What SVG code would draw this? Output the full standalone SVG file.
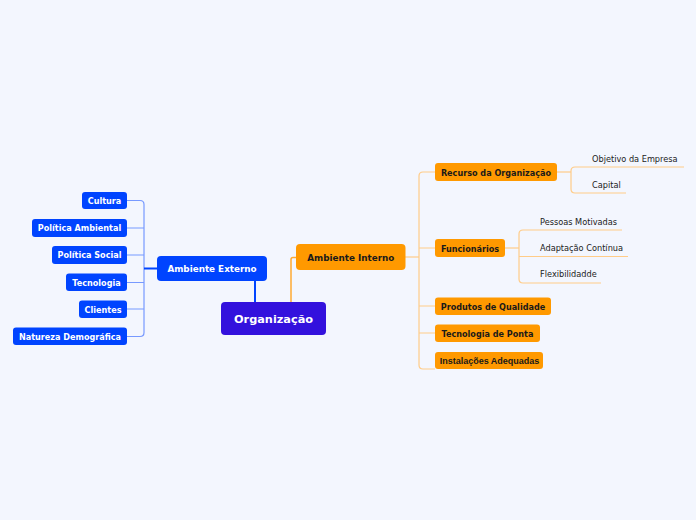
<svg xmlns="http://www.w3.org/2000/svg" width="696" height="520" viewBox="0 0 696 520">
<style>
text{font-family:"DejaVu Sans",Verdana,sans-serif}
.b{fill:#0044ff}
.bt{fill:#ffffff;font-weight:bold;font-size:8.1px;text-anchor:middle}
.o{fill:#ff9900}
.ot{fill:#1a1a1a;font-weight:bold;font-size:8.1px;text-anchor:middle}
.big{font-size:8.8px}
.lt{fill:#222;font-size:8.2px}
.lb{fill:none;stroke:#7799ff;stroke-width:1.2}
.lbs{fill:none;stroke:#0044ff;stroke-width:2}
.lo{fill:none;stroke:#ffcc88;stroke-width:1.2}
.los{fill:none;stroke:#ffaa33;stroke-width:1.5}
</style>
<rect width="696" height="520" fill="#f3f6fe"/>
<g id="connectors">
<path class="lb" d="M127 200.5 H140 Q144 200.5 144 204.5 V332.5 Q144 336.5 140 336.5 H127"/>
<path class="lb" d="M127 228 H144 M127 255 H144 M127 282.5 H144 M127 309 H144"/>
<path class="lbs" d="M144 268.5 H157"/>
<path class="lbs" d="M255 281 V302"/>
<path class="los" d="M291 302 V259.5 Q291 257.5 293 257.5 H296"/>
<path class="lo" d="M405 257 H419"/>
<path class="lo" d="M435 172 H423 Q419 172 419 176 V365 Q419 369 423 369 H435"/>
<path class="lo" d="M419 248 H435 M419 306 H435 M419 333 H435"/>
<path class="lo" d="M557 172 H571"/>
<path class="lo" d="M684 167 H575 Q571 167 571 171 V189 Q571 193 575 193 H626"/>
<path class="lo" d="M505 248 H519"/>
<path class="lo" d="M622 230 H523 Q519 230 519 234 V279 Q519 283 523 283 H601"/>
<path class="lo" d="M519 256.5 H628"/>
</g>
<g id="organizacao">
<rect x="221" y="302" width="105" height="33" rx="4" fill="#3311dd"/>
<text x="273.5" y="322.5" fill="#fff" font-weight="bold" font-size="11.3" text-anchor="middle">Organização</text>
</g>
<g id="ambiente-externo">
<rect class="b" x="157" y="256" width="110" height="25" rx="4"/>
<text class="bt big" x="212" y="271.5">Ambiente Externo</text>
</g>
<g id="cultura"><rect class="b" x="82" y="192" width="45" height="17" rx="3"/><text class="bt" x="104.5" y="203.5">Cultura</text></g>
<g id="politica-ambiental"><rect class="b" x="32" y="219" width="95" height="18" rx="3"/><text class="bt" x="79.5" y="231">Política Ambiental</text></g>
<g id="politica-social"><rect class="b" x="52" y="246" width="75" height="18" rx="3"/><text class="bt" x="89.5" y="258">Política Social</text></g>
<g id="tecnologia"><rect class="b" x="66" y="273.5" width="61" height="17.5" rx="3"/><text class="bt" x="96.5" y="285.5">Tecnologia</text></g>
<g id="clientes"><rect class="b" x="79" y="300.5" width="48" height="17.5" rx="3"/><text class="bt" x="103" y="312.5">Clientes</text></g>
<g id="natureza"><rect class="b" x="13" y="327.5" width="114" height="17.5" rx="3"/><text class="bt" x="70" y="339.5">Natureza Demográfica</text></g>
<g id="ambiente-interno">
<rect class="o" x="296" y="244" width="109.5" height="26" rx="4"/>
<text class="ot big" x="350.75" y="260.5">Ambiente Interno</text>
</g>
<g id="recurso"><rect class="o" x="435" y="163" width="122" height="18" rx="3"/><text class="ot" x="496" y="175.5">Recurso da Organização</text></g>
<g id="funcionarios"><rect class="o" x="435" y="239" width="70" height="18" rx="3"/><text class="ot" x="470" y="251.5">Funcionários</text></g>
<g id="produtos"><rect class="o" x="435" y="297.5" width="116" height="17.5" rx="3"/><text class="ot" x="493" y="309.5">Produtos de Qualidade</text></g>
<g id="tecnologia-ponta"><rect class="o" x="435" y="324.5" width="105" height="17.5" rx="3"/><text class="ot" x="487.5" y="336.5">Tecnologia de Ponta</text></g>
<g id="instalacoes"><rect class="o" x="435" y="352" width="108" height="17" rx="3"/><text class="ot" x="489.5" y="363.5" style="font-family:'Liberation Sans',Arial,sans-serif;font-size:9px">Instalações Adequadas</text></g>
<g id="objetivo"><text class="lt" x="592" y="162">Objetivo da Empresa</text></g>
<g id="capital"><text class="lt" x="592" y="188">Capital</text></g>
<g id="pessoas"><text class="lt" x="540" y="224.5">Pessoas Motivadas</text></g>
<g id="adaptacao"><text class="lt" x="540" y="251">Adaptação Contínua</text></g>
<g id="flexibilidade"><text class="lt" x="540" y="277">Flexibilidadde</text></g>
</svg>
